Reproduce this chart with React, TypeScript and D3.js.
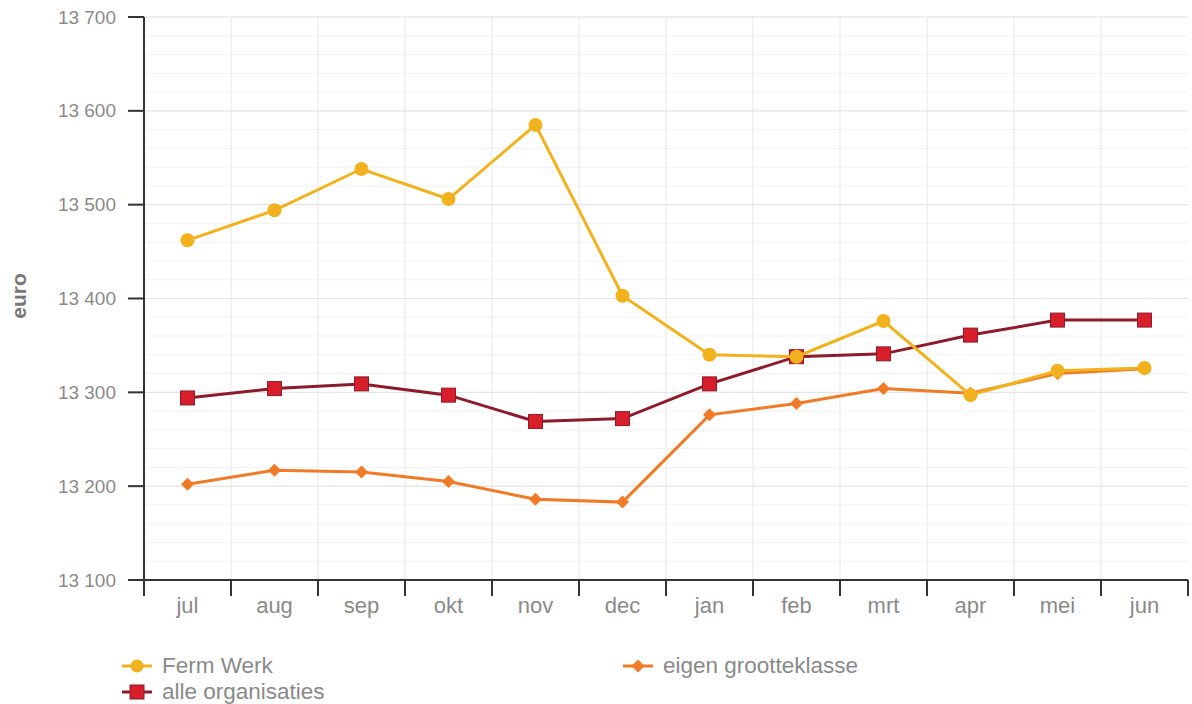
import React from "react";
import * as d3 from "d3";

const months = ["jul", "aug", "sep", "okt", "nov", "dec", "jan", "feb", "mrt", "apr", "mei", "jun"];
const fermWerk = [13462, 13494, 13538, 13506, 13585, 13403, 13340, 13338, 13376, 13297, 13323, 13326];
const alleOrganisaties = [13294, 13304, 13309, 13297, 13269, 13272, 13309, 13338, 13341, 13361, 13377, 13377];
const eigenGrootteklasse = [13202, 13217, 13215, 13205, 13186, 13183, 13276, 13288, 13304, 13299, 13320, 13325];
const yTicks = [13100, 13200, 13300, 13400, 13500, 13600, 13700];
const yMinorTicks = d3.range(13100, 13701, 20);

const W = 1192, H = 704;
const left = 144, right = 1188, top = 17, bottom = 580;

export default function App() {
  const x = d3.scaleBand<string>().domain(months).range([left, right]).padding(0);
  const y = d3.scaleLinear().domain([13100, 13700]).range([bottom, top]);
  const cx = (m: string) => (x(m) as number) + x.bandwidth() / 2;
  const line = d3.line<number>().x((_, i) => cx(months[i])).y((d) => y(d));
  const fmt = (v: number) => {
    const s = String(v);
    return s.slice(0, s.length - 3) + " " + s.slice(s.length - 3);
  };
  const font = "'Liberation Sans', Arial, sans-serif";
  const boundaries = months.map((m) => x(m) as number).concat([right]);
  const yellow = "#f2b21e";
  const red = "#d81e2a";
  const maroon = "#8e1b2c";
  const orange = "#f07a26";
  const diamond = (px: number, py: number, r: number) =>
    `M${px},${py - r}L${px + r},${py}L${px},${py + r}L${px - r},${py}Z`;

  return (
    <svg width={W} height={H} style={{ position: "absolute", left: 0, top: 0, background: "#fff" }} fontFamily={font}>
      {/* minor grid */}
      {yMinorTicks.map((t) => (
        <line key={"mn" + t} x1={left} x2={right} y1={y(t)} y2={y(t)} stroke="#f2f2f2" strokeWidth={1} />
      ))}
      {yTicks.map((t) => (
        <line key={"mj" + t} x1={left} x2={right} y1={y(t)} y2={y(t)} stroke="#e3e3e3" strokeWidth={1} />
      ))}
      {boundaries.slice(1, -1).map((b, i) => (
        <line key={"vg" + i} x1={b} x2={b} y1={top} y2={bottom} stroke="#e6e6e6" strokeWidth={1} />
      ))}
      {/* axes */}
      <line x1={left} x2={left} y1={top} y2={bottom + 16} stroke="#333" strokeWidth={2} />
      <line x1={left - 16} x2={right} y1={bottom} y2={bottom} stroke="#333" strokeWidth={2} />
      {yTicks.map((t) => (
        <g key={"yt" + t}>
          <line x1={left - 16} x2={left} y1={y(t)} y2={y(t)} stroke="#333" strokeWidth={2} />
          <text x={left - 28} y={y(t)} dy="0.35em" textAnchor="end" fontSize={19} fill="#8a8a8a">
            {fmt(t)}
          </text>
        </g>
      ))}
      {boundaries.slice(1).map((b, i) => (
        <line key={"xt" + i} x1={b} x2={b} y1={bottom} y2={bottom + 16} stroke="#333" strokeWidth={2} />
      ))}
      {months.map((m) => (
        <text key={"xl" + m} x={cx(m)} y={bottom + 33} textAnchor="middle" fontSize={22} fill="#8a8a8a">
          {m}
        </text>
      ))}
      <text
        transform={`translate(26, 296) rotate(-90)`}
        textAnchor="middle"
        fontSize={21}
        fontWeight="bold"
        fill="#777"
      >
        euro
      </text>

      {/* eigen grootteklasse */}
      <path d={line(eigenGrootteklasse) || ""} fill="none" stroke={orange} strokeWidth={3} />
      {eigenGrootteklasse.map((v, i) => (
        <path key={"eg" + i} d={diamond(cx(months[i]), y(v), 6.5)} fill={orange} />
      ))}
      {/* alle organisaties */}
      <path d={line(alleOrganisaties) || ""} fill="none" stroke={maroon} strokeWidth={3} />
      {alleOrganisaties.map((v, i) => (
        <rect key={"ao" + i} x={cx(months[i]) - 7} y={y(v) - 7} width={14} height={14} fill={red} stroke={maroon} strokeWidth={1} />
      ))}
      {/* ferm werk */}
      <path d={line(fermWerk) || ""} fill="none" stroke={yellow} strokeWidth={3} />
      {fermWerk.map((v, i) => (
        <circle key={"fw" + i} cx={cx(months[i])} cy={y(v)} r={7} fill={yellow} />
      ))}

      {/* legend */}
      <g transform="translate(137,666)">
        <line x1={-15} x2={15} y1={0} y2={0} stroke={yellow} strokeWidth={3} />
        <circle r={6.5} fill={yellow} />
        <text x={25} y={7} fontSize={22.5} fill="#8a8a8a">Ferm Werk</text>
      </g>
      <g transform="translate(137,692)">
        <line x1={-15} x2={15} y1={0} y2={0} stroke={maroon} strokeWidth={3} />
        <rect x={-7} y={-7} width={14} height={14} fill={red} stroke={maroon} />
        <text x={25} y={7} fontSize={22.5} fill="#8a8a8a">alle organisaties</text>
      </g>
      <g transform="translate(638,666)">
        <line x1={-15} x2={15} y1={0} y2={0} stroke={orange} strokeWidth={3} />
        <path d={diamond(0, 0, 6.5)} fill={orange} />
        <text x={25} y={7} fontSize={22.5} fill="#8a8a8a">eigen grootteklasse</text>
      </g>
    </svg>
  );
}
